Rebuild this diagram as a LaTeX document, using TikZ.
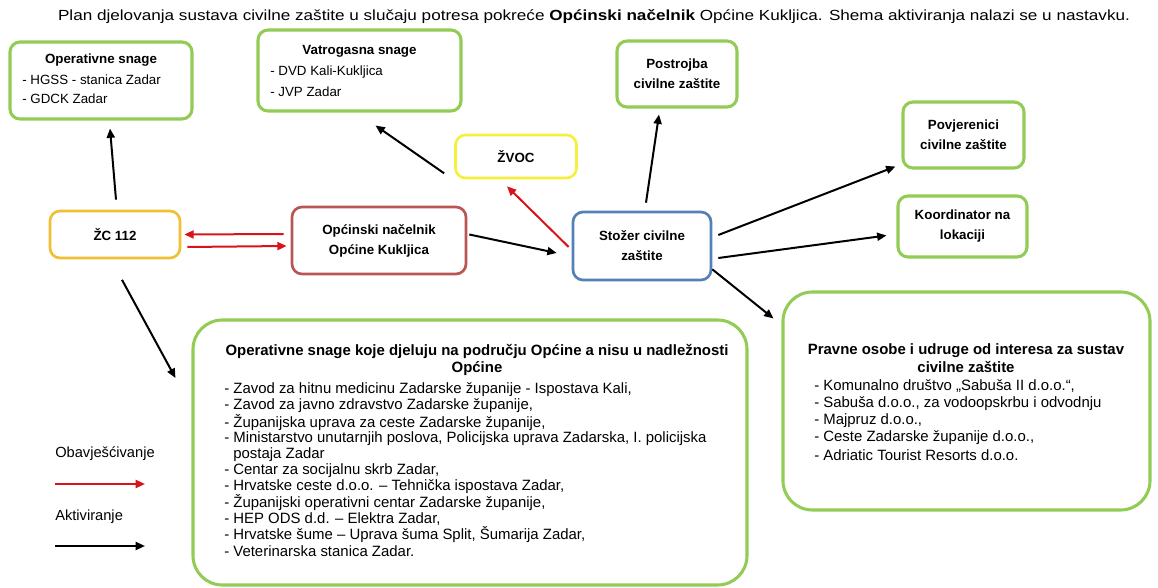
\documentclass[tikz,border=0pt]{standalone}
\usepackage{graphicx}
\usepackage{fontspec}
\setmainfont{Liberation Sans}
\usetikzlibrary{arrows.meta,calc}
\definecolor{boxgreen}{RGB}{146,204,84}
\definecolor{boxyellow}{RGB}{245,240,60}
\definecolor{boxgold}{RGB}{240,192,50}
\definecolor{boxred}{RGB}{185,85,85}
\definecolor{boxblue}{RGB}{84,128,182}
\definecolor{arrred}{RGB}{215,20,25}
\begin{document}
\begin{tikzpicture}[x=0.75pt,y=-0.75pt,
  box/.style={draw, rounded corners=7.5pt, line width=2pt, inner sep=0pt, fill=white},
  gbox/.style={box, draw=boxgreen, line width=2.3pt},
  bigbox/.style={gbox, rounded corners=22pt},
  btxt/.style={font=\fontsize{10}{15}\selectfont\bfseries, align=center},
  ltxt/.style={font=\fontsize{10}{12}\selectfont, anchor=west, inner sep=0pt},
  lltxt/.style={font=\fontsize{11.2}{13}\selectfont, anchor=west, inner sep=0pt},
  arr/.style={line width=1.5pt, -{Triangle[length=7pt,width=6pt]}},
  rarr/.style={arr, draw=arrred, color=arrred}]
\useasboundingbox (0,0) rectangle (1158,588);

% title
\node[font=\fontsize{11}{13}\selectfont] (title) at (594,17) {\scalebox{1.168}[1]{Plan djelovanja sustava civilne zaštite u slučaju potresa pokreće \textbf{Općinski načelnik} Općine Kukljica. Shema aktiviranja nalazi se u nastavku.}};

% boxes
\node[gbox, minimum width=136.5pt, minimum height=57.75pt] (A) at (101,80.5) {};
\node[btxt] (Atitle) at (101,60) {Operativne snage};
\node[ltxt] (A1) at (22,80) {- HGSS - stanica Zadar};
\node[ltxt] (A2) at (22,99) {- GDCK Zadar};

\node[gbox, minimum width=152.25pt, minimum height=60.75pt] (B) at (359.5,70.5) {};
\node[btxt] (Btitle) at (359.5,51) {Vatrogasna snage};
\node[ltxt] (B1) at (270,72) {- DVD Kali-Kukljica};
\node[ltxt] (B2) at (270,92) {- JVP Zadar};

\node[gbox, btxt, minimum width=90pt, minimum height=49.5pt] (C) at (677,74) {Postrojba\\civilne zaštite};
\node[gbox, btxt, minimum width=90.75pt, minimum height=49.5pt] (D) at (963.5,135) {Povjerenici\\civilne zaštite};
\node[gbox, btxt, minimum width=96.75pt, minimum height=45.75pt] (E) at (962.5,226.5) {Koordinator na\\lokaciji};
\node[box, draw=boxyellow, btxt, minimum width=90.75pt, minimum height=32.25pt] (F) at (516,156.5) {ŽVOC};
\node[box, draw=boxgold, btxt, minimum width=97.5pt, minimum height=35.25pt] (G) at (115,234.5) {ŽC 112};
\node[box, draw=boxred, btxt, minimum width=130.5pt, minimum height=50.25pt] (H) at (379,240.5) {Općinski načelnik\\Općine Kukljica};
\node[box, draw=boxblue, btxt, minimum width=103.5pt, minimum height=51pt] (I) at (642,246) {Stožer civilne\\zaštite};

% big box J
\node[bigbox, minimum width=415.5pt, minimum height=198.75pt] (J) at (470,452.5) {};
\node[btxt, font=\fontsize{11.2}{13}\selectfont\bfseries] (Jtitle) at (477,360) {Operativne snage koje djeluju na području Općine a nisu u nadležnosti\\Općine};
\foreach \t [count=\i from 0] in {
  {- Zavod za hitnu medicinu Zadarske županije - Ispostava Kali,},
  {- Zavod za javno zdravstvo Zadarske županije,},
  {- Županijska uprava za ceste Zadarske županije,},
  {- Ministarstvo unutarnjih poslova, Policijska uprava Zadarska, I. policijska},
  {\phantom{- }postaja Zadar},
  {- Centar za socijalnu skrb Zadar,},
  {- Hrvatske ceste d.o.o. – Tehnička ispostava Zadar,},
  {- Županijski operativni centar Zadarske županije,},
  {- HEP ODS d.d. – Elektra Zadar,},
  {- Hrvatske šume – Uprava šuma Split, Šumarija Zadar,},
  {- Veterinarska stanica Zadar.}}
  \node[lltxt] (J\i) at (224,390+16.1*\i) {\t};

% big box K
\node[bigbox, minimum width=275.25pt, minimum height=163.5pt] (K) at (966.5,401) {};
\node[btxt, font=\fontsize{11.2}{13}\selectfont\bfseries] (Ktitle) at (966,358) {Pravne osobe i udruge od interesa za sustav\\civilne zaštite};
\foreach \t [count=\i from 0] in {
  {- Komunalno društvo „Sabuša II d.o.o.“,},
  {- Sabuša d.o.o., za vodoopskrbu i odvodnju},
  {- Majpruz d.o.o.,},
  {- Ceste Zadarske županije d.o.o.,},
  {- Adriatic Tourist Resorts d.o.o.}}
  \node[lltxt] (K\i) at (814,386+17.2*\i) {\t};

% legend
\node[lltxt, font=\fontsize{11}{13}\selectfont] (leg1) at (55,454) {Obavješćivanje};
\node[lltxt, font=\fontsize{11}{13}\selectfont] (leg2) at (55,517) {Aktiviranje};
\coordinate (l1a) at (55,484);
\coordinate (l1b) at (145,484);
\coordinate (l2a) at (55,546);
\coordinate (l2b) at (145,546);
\draw[rarr] (l1a) -- (l1b);
\draw[arr] (l2a) -- (l2b);

% connectors
\draw[arr] ($(G.north)+(1,-10)$) -- ($(A.south)+(9,8)$);
\draw[arr] ($(F.south west)+(-10,-6)$) -- ($(B.south)+(16,13)$);
\draw[arr] ($(I.north)+(4,-8)$) -- ($(C.south)+(-18,6)$);
\draw[arr] ($(I.east)+(6,-11)$) -- ($(D.south west)+(-6,-3)$);
\draw[arr] ($(I.east)+(6,12)$) -- ($(E.west)+(-10,9)$);
\draw[arr] ($(I.south east)+(0,-12)$) -- ($(K.north west)+(-8,28)$);
\draw[arr] ($(H.east)+(2,-6)$) -- ($(I.west)+(-15,7)$);
\draw[arr] ($(G.south)+(7,20.5)$) -- ($(J.west)+(-16,-74.5)$);
\draw[rarr] ($(I.west)+(-3,1)$) -- ($(F.south)+(-9,7)$);
\draw[rarr] ($(H.west)+(-7,-6.5)$) -- ($(G.east)+(3,0)$);
\draw[rarr] ($(G.east)+(6,12.5)$) -- ($(H.west)+(-4,5.5)$);
\end{tikzpicture}
\end{document}
